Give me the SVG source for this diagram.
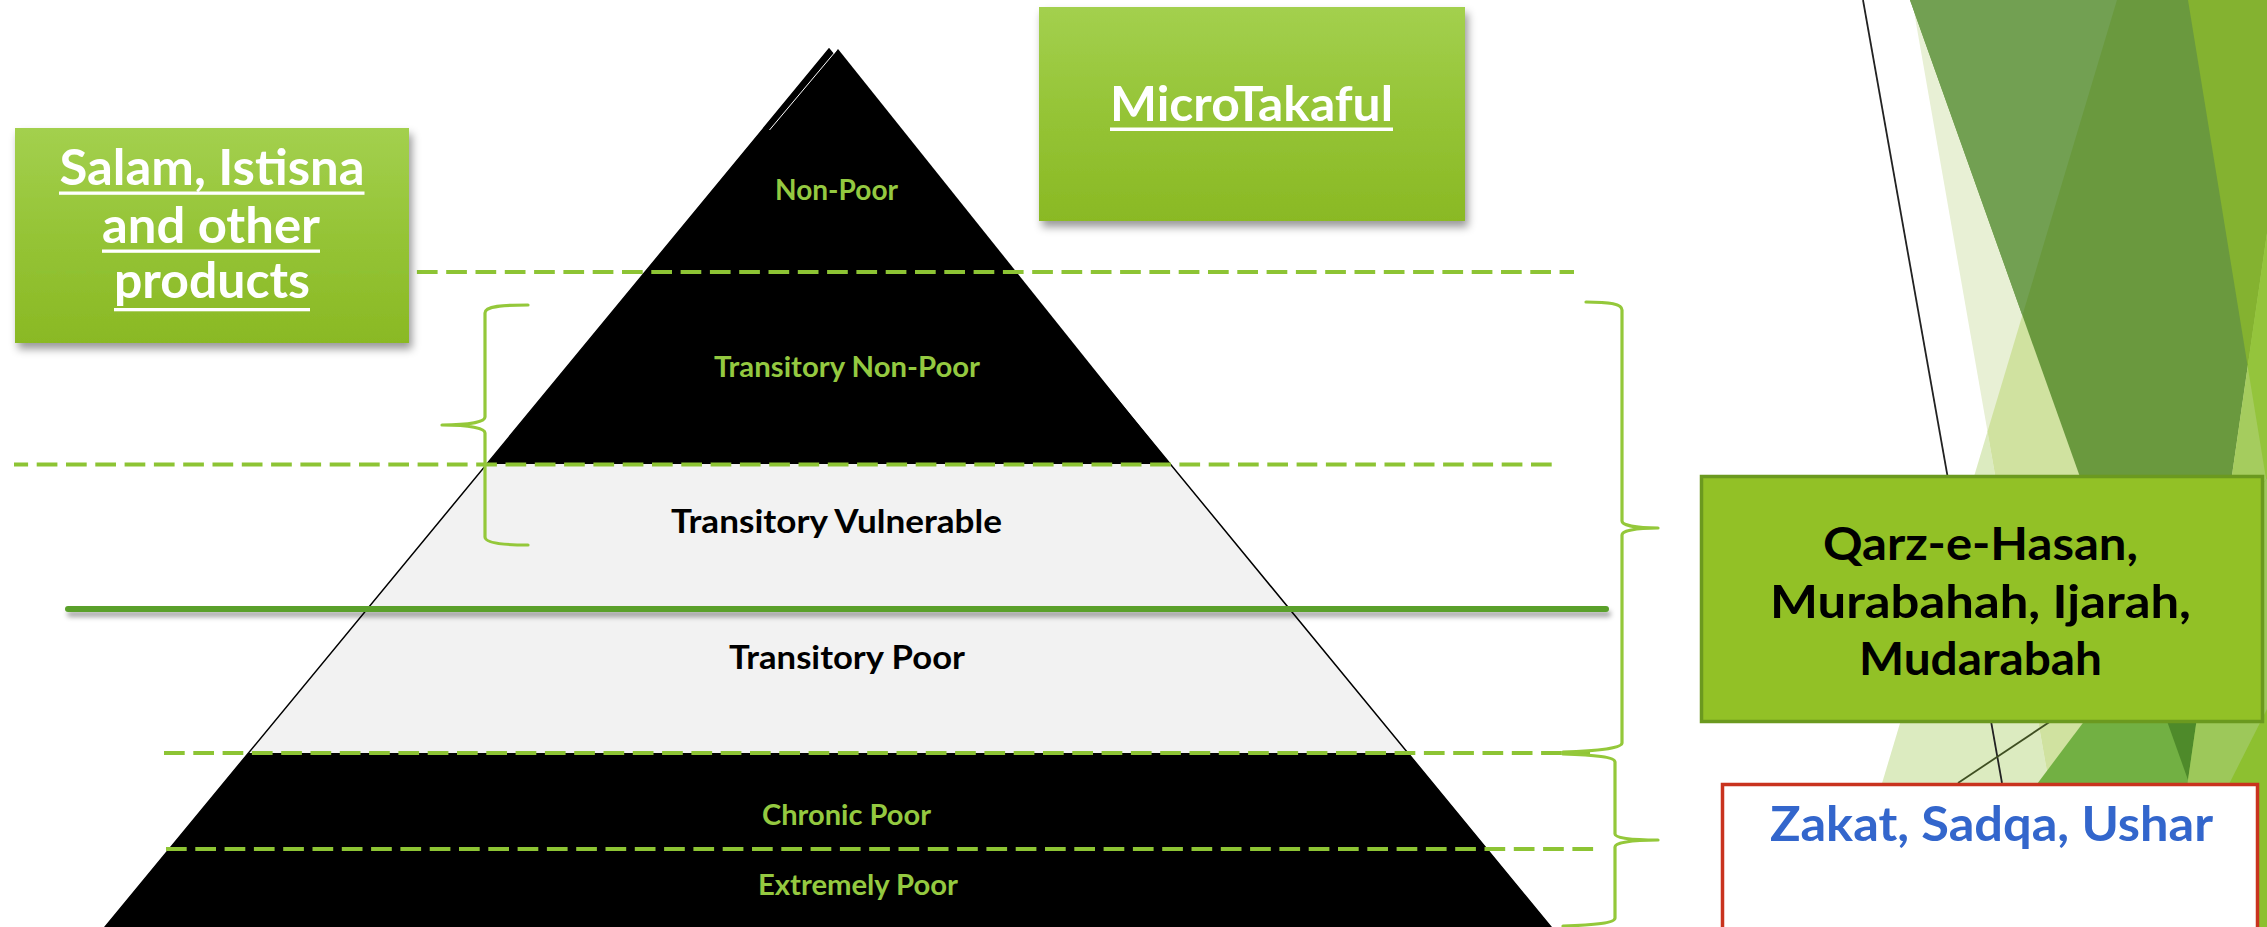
<svg xmlns="http://www.w3.org/2000/svg" width="2267" height="927" viewBox="0 0 2267 927">
  <defs>
    <linearGradient id="boxGrad" x1="0" y1="0" x2="0" y2="1">
      <stop offset="0" stop-color="#A3D04E"/>
      <stop offset="0.5" stop-color="#95C436"/>
      <stop offset="1" stop-color="#8AB924"/>
    </linearGradient>
    <filter id="boxShadow" x="-10%" y="-10%" width="125%" height="130%">
      <feDropShadow dx="3" dy="6" stdDeviation="4" flood-color="#000" flood-opacity="0.4"/>
    </filter>
    <filter id="lineShadow" filterUnits="userSpaceOnUse" x="40" y="590" width="1600" height="45">
      <feDropShadow dx="2" dy="5" stdDeviation="2.5" flood-color="#000" flood-opacity="0.35"/>
    </filter>
    <style>
      .dash { stroke: #8DC434; stroke-width: 3.8; stroke-dasharray: 20.7 8.6; fill: none; }
      .brace { stroke: #94C83A; stroke-width: 3.2; fill: none; stroke-linecap: round; stroke-linejoin: round; }
      .lblG { font-family: Lato, "Liberation Sans", sans-serif; font-weight: bold; font-size: 28px; fill: #94C940; text-anchor: middle; }
      .lblK { font-family: Lato, "Liberation Sans", sans-serif; font-weight: bold; font-size: 33px; fill: #000; text-anchor: middle; }
      .boxT { font-family: Lato, "Liberation Sans", sans-serif; font-weight: bold; font-size: 49px; fill: #FFF; text-anchor: middle; }
      .prodT { font-family: Lato, "Liberation Sans", sans-serif; font-weight: bold; font-size: 46px; fill: #000; text-anchor: middle; }
      .uline { fill: #FFF; }
    </style>
  </defs>

  <rect width="2267" height="927" fill="#FFFFFF"/>

  <!-- decorative facets on the right edge -->
  <g id="facets">
    <polygon points="1912,0 2052,800 2267,800 2267,0" fill="#E8F0D5"/>
    <polygon points="1987.5,431.6 1877,800 2052,800" fill="#DCEBC0"/>
    <polygon points="2117,0 1987.5,431.6 2052,800 2267,800 2267,0" fill="#D0E2A0"/>
    <polygon points="1910,0 2188,780 2267,233 2267,0" fill="#6A993E"/>
    <polygon points="1910,0 2022.4,315.4 2117,0" fill="#72A052"/>
    <polygon points="2188,0 2267,484.7 2267,0" fill="#84B230"/>
    <polygon points="2267,233 2188,780 2267,780" fill="#A5CC5E"/>
    <polygon points="2267,233 2247.7,366.5 2267,484.7" fill="#94C43C"/>
    <polygon points="2267,478 2025,800 2267,800" fill="#72B043"/>
    <polygon points="2140.5,646.7 2188,780 2223.2,536.5" fill="#4E8A2A"/>
    <polygon points="2267,478 2223.2,536.5 2188,780 2185,800 2267,800" fill="#9DC85A"/>
    <polygon points="2267,709 2221,800 2221,927 2267,927" fill="#8DC030"/>
    <line x1="1863" y1="0" x2="2002" y2="783" stroke="#222" stroke-width="1.8"/>
    <line x1="2060" y1="715" x2="1958" y2="783" stroke="#3F4F22" stroke-width="1.8"/>
  </g>

  <!-- pyramid of poverty layers -->
  <g id="pyramid">
    <polygon points="829,49 105,927 1551,927" fill="#F2F2F2" stroke="#000" stroke-width="1.5"/>
    <polygon points="829,49 487,464 1170,464" fill="#000"/>
    <polygon points="838,49 1170,464 496,464" fill="#000"/>
    <line x1="836.3" y1="50.5" x2="769.5" y2="130" stroke="#FFF" stroke-width="1"/>
    <polygon points="248.5,753 1408,753 1551,927 105,927" fill="#000"/>
  </g>

  <!-- level boundaries -->
  <g id="connectors">
    <line class="dash" x1="36" y1="272" x2="1574" y2="272"/>
    <line class="dash" x1="14" y1="464.5" x2="1553" y2="464.5" stroke-dashoffset="6.6"/>
    <line x1="68" y1="609" x2="1606" y2="609" stroke="#5AA02C" stroke-width="6" stroke-linecap="round" filter="url(#lineShadow)"/>
    <line class="dash" x1="164" y1="753" x2="1590" y2="753"/>
    <line class="dash" x1="166" y1="849" x2="1595" y2="849"/>
    <path class="brace" d="M528,305 C503,305 485,306 485,313 L485,417 C485,422 470,425 442,425 C470,425 485,428 485,433 L485,537 C485,543 503,545 528,545"/>
    <path class="brace" d="M1586,302 C1610,302 1622,304 1622,310 L1622,521 C1622,525 1635,528 1658,528 C1635,528 1622,531 1622,535 L1622,743 C1622,748 1600,751 1563,752"/>
    <path class="brace" d="M1563,754 C1595,755 1615,757 1615,762 L1615,834 C1615,838 1630,840 1658,840 C1630,840 1615,843 1615,847 L1615,918 C1615,923 1595,925 1563,926"/>
  </g>

  <!-- level labels -->
  <g id="labels">
    <text class="lblG" x="836.5" y="200" textLength="123" lengthAdjust="spacingAndGlyphs">Non-Poor</text>
    <text class="lblG" x="847" y="377" textLength="266" lengthAdjust="spacingAndGlyphs">Transitory Non-Poor</text>
    <text class="lblK" x="836.5" y="533" textLength="331" lengthAdjust="spacingAndGlyphs">Transitory Vulnerable</text>
    <text class="lblK" x="847" y="669" textLength="236" lengthAdjust="spacingAndGlyphs">Transitory Poor</text>
    <text class="lblG" x="846.5" y="825" textLength="169" lengthAdjust="spacingAndGlyphs">Chronic Poor</text>
    <text class="lblG" x="858" y="895" textLength="200" lengthAdjust="spacingAndGlyphs">Extremely Poor</text>
  </g>

  <g id="node-salam">
    <rect x="15" y="128" width="394" height="215" fill="url(#boxGrad)" filter="url(#boxShadow)"/>
    <line x1="36" y1="272" x2="409" y2="272" stroke="#8DC434" stroke-width="3" stroke-dasharray="20.7 8.6" opacity="0.55"/>
    <text class="boxT" x="212" y="185" textLength="305" lengthAdjust="spacingAndGlyphs">Salam, Istisna</text>
    <rect class="uline" x="59" y="191.5" width="305.5" height="3.3"/>
    <text class="boxT" x="211" y="243" textLength="218" lengthAdjust="spacingAndGlyphs">and other</text>
    <rect class="uline" x="102" y="249.5" width="218" height="3.3"/>
    <text class="boxT" x="212" y="298" textLength="196" lengthAdjust="spacingAndGlyphs">products</text>
    <rect class="uline" x="114" y="308" width="196" height="3.3"/>
  </g>

  <g id="node-microtakaful">
    <rect x="1039" y="7" width="426" height="214" fill="url(#boxGrad)" filter="url(#boxShadow)"/>
    <text class="boxT" x="1251.5" y="121" textLength="283" lengthAdjust="spacingAndGlyphs" style="font-size:47px">MicroTakaful</text>
    <rect class="uline" x="1110" y="127.5" width="283" height="3.5"/>
  </g>

  <g id="node-qarz">
    <rect x="1701.5" y="476.5" width="561" height="245" fill="#92C126" stroke="#6B991F" stroke-width="3.5"/>
    <text class="prodT" x="1980.5" y="560" textLength="315" lengthAdjust="spacingAndGlyphs">Qarz-e-Hasan,</text>
    <text class="prodT" x="1980.5" y="618" textLength="421" lengthAdjust="spacingAndGlyphs">Murabahah, Ijarah,</text>
    <text class="prodT" x="1980.5" y="675" textLength="243" lengthAdjust="spacingAndGlyphs">Mudarabah</text>
  </g>

  <g id="node-zakat">
    <rect x="1722.5" y="784.5" width="535" height="200" fill="#FFFFFF" stroke="#C9331E" stroke-width="3.5"/>
    <text class="prodT" x="1991.5" y="841" style="fill:#3366CC;font-size:47px" textLength="443" lengthAdjust="spacingAndGlyphs">Zakat, Sadqa, Ushar</text>
  </g>
</svg>
